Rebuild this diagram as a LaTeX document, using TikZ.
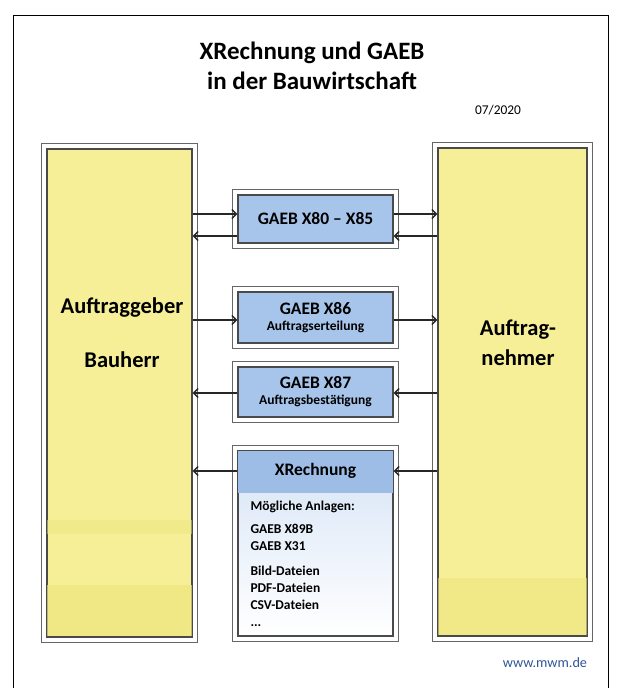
\documentclass[tikz,border=0pt]{standalone}
\usepackage{fontspec}
\setmainfont{Carlito}
\usetikzlibrary{positioning, arrows.meta}
\definecolor{gelb}{HTML}{F6EF98}
\definecolor{gelbdunkel}{HTML}{EEE67E}
\definecolor{blau}{HTML}{A7C4EA}
\definecolor{blaukopf}{HTML}{9DBDE7}
\definecolor{blauhell}{HTML}{D6E4F6}
\definecolor{rahmen}{HTML}{4A4A4A}
\definecolor{link}{HTML}{2F5597}

\begin{document}
\begin{tikzpicture}[x=1pt, y=-1pt,
    spalte/.style={draw=rahmen, line width=1.1pt, fill=gelb, minimum height=488pt, inner sep=0pt},
    gaeb/.style={draw=rahmen, line width=1.1pt, fill=blau, minimum width=155pt, align=center, inner sep=0pt},
    aussen/.style={draw=black!60, line width=1.4pt},
    pfeil/.style={-{Straight Barb[length=4.5pt, width=9pt]}, line width=1.5pt, black!85},
    gross/.style={font=\fontsize{22.5}{30}\selectfont\bfseries},
    titelgr/.style={font=\fontsize{17.5}{20}\selectfont\bfseries},
    klein/.style={font=\fontsize{13.5}{16}\selectfont\bfseries}]
    \useasboundingbox (0,0) rectangle (620,688);
    % Rahmen
    \draw[line width=0.8pt] (13,688) -- (13,15) -- (608,15) -- (608,688);
    % Titel
    \node[font=\fontsize{25}{30}\selectfont\bfseries, align=center] (titel) at (312,66)
        {XRechnung und GAEB\\in der Bauwirtschaft};
    \node[font=\fontsize{13.4}{15}\selectfont] (datum) at (498,110) {07/2020};
    % Spalten
    \node[spalte, minimum width=145pt] (ag) at (119.5,393) {};
    \node[spalte, minimum width=149pt] (an) at (512.5,392) {};
    \fill[gelbdunkel, opacity=0.5] ([xshift=1pt]ag.west |- 0,520) rectangle ([xshift=-1pt]ag.east |- 0,534);
    \fill[gelbdunkel, opacity=0.7] ([xshift=1pt]ag.west |- 0,585) rectangle ([xshift=-1pt]ag.east |- 0,636);
    \fill[gelbdunkel, opacity=0.6] ([xshift=1pt]an.west |- 0,578) rectangle ([xshift=-1pt]an.east |- 0,635);
    \node[gross] (auftraggeber) at (122,308) {Auftraggeber};
    \node[gross] (bauherr) at (122,360) {Bauherr};
    \node[gross, align=center] (auftragnehmer) at (518,343) {Auftrag-\\nehmer};
    % GAEB-Boxen
    \node[gaeb, minimum height=48pt, titelgr] (x80) at (315.5,219) {GAEB X80 -- X85};
    \node[gaeb, minimum height=51pt] (x86) at (315.5,317.5)
        {\fontsize{17.5}{19}\selectfont\bfseries GAEB X86\\[4pt]\fontsize{13.5}{15}\selectfont\bfseries Auftragserteilung};
    \node[gaeb, minimum height=50pt] (x87) at (315.5,392)
        {\fontsize{17.5}{19}\selectfont\bfseries GAEB X87\\[4pt]\fontsize{13.5}{15}\selectfont\bfseries Auftragsbestätigung};
    % XRechnung mit Anlagen
    \node[gaeb, fill=none, top color=blauhell, bottom color=white, minimum height=185pt] (xr) at (315.5,543.5) {};
    \fill[blaukopf] ([shift={(0.55pt,-0.55pt)}]xr.north west) rectangle ([xshift=-0.55pt]xr.east |- 0,493);
    \node[titelgr] (xrtitel) at (315.5,471) {XRechnung};
    \node[klein, align=left, anchor=north west, font=\fontsize{13.5}{17}\selectfont\bfseries] (anlagen) at (247,497)
        {Mögliche Anlagen:\\[6pt]GAEB X89B\\GAEB X31\\[8pt]Bild-Dateien\\PDF-Dateien\\CSV-Dateien\\...};
    % doppelter Rand
    \foreach \n in {ag, an, x80, x86, x87, xr}
        \draw[aussen] ([shift={(-5pt,5pt)}]\n.north west) rectangle ([shift={(5pt,-5pt)}]\n.south east);
    % Pfeile
    \draw[pfeil] ([yshift=5pt]x80.west -| ag.east) -- ([yshift=5pt]x80.west);
    \draw[pfeil] ([yshift=-17pt]x80.west) -- ([yshift=-17pt]x80.west -| ag.east);
    \draw[pfeil] ([yshift=5pt]x80.east) -- ([yshift=5pt]x80.east -| an.west);
    \draw[pfeil] ([yshift=-17pt]x80.east -| an.west) -- ([yshift=-17pt]x80.east);
    \draw[pfeil] ([yshift=-2.5pt]x86.west -| ag.east) -- ([yshift=-2.5pt]x86.west);
    \draw[pfeil] ([yshift=-2.5pt]x86.east) -- ([yshift=-2.5pt]x86.east -| an.west);
    \draw[pfeil] ([yshift=-1pt]x87.west) -- ([yshift=-1pt]x87.west -| ag.east);
    \draw[pfeil] ([yshift=-1pt]x87.east -| an.west) -- ([yshift=-1pt]x87.east);
    \draw[pfeil] (xrtitel -| xr.west) -- (xrtitel -| ag.east);
    \draw[pfeil] (xrtitel -| an.west) -- (xrtitel -| xr.east);
    % Link
    \node[font=\fontsize{14.2}{16}\selectfont, text=link] (web) at (545,663) {www.mwm.de};
\end{tikzpicture}
\end{document}
